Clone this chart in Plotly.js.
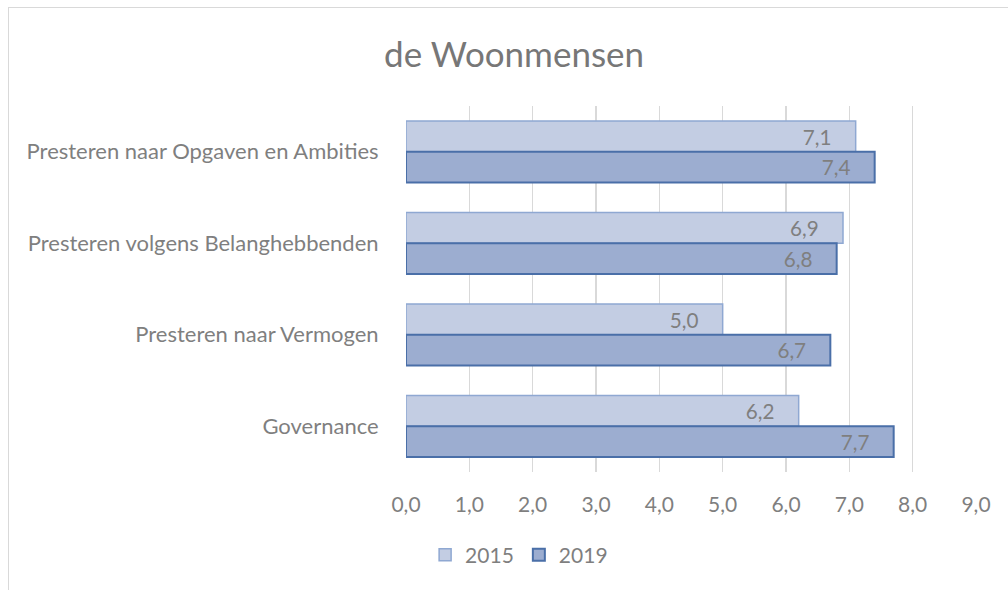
<!DOCTYPE html>
<html>
<head>
<meta charset="utf-8">
<script src="https://cdn.plot.ly/plotly-3.0.1.min.js"></script>
<style>
  html, body { margin: 0; padding: 0; background: #fff; overflow: hidden; }
  #frame { position: absolute; left: 8px; top: 7px; width: 1010px; height: 600px; border: 1px solid #d9d9d9; box-sizing: border-box; }
  #chart { position: absolute; left: 0; top: 0; width: 1008px; height: 590px; }
</style>
</head>
<body>
<div id="frame"></div>
<div id="chart"></div>
<script>
const categories = [
  "Presteren naar Opgaven en Ambities",
  "Presteren volgens Belanghebbenden",
  "Presteren naar Vermogen",
  "Governance"
];
const values2015 = [7.1, 6.9, 5.0, 6.2];
const values2019 = [7.4, 6.8, 6.7, 7.7];
const seriesNames = ["2015", "2019"];
const xTicks = [0, 1, 2, 3, 4, 5, 6, 7, 8, 9];

const font = "Lato, 'Open Sans', sans-serif";
const gray = "#7f7f7f";
const pad = "\u00a0\u00a0\u00a0\u00a0";

const traces = [
  {
    type: "bar", orientation: "h", name: seriesNames[0],
    y: categories, x: values2015,
    marker: { color: "#c3cde3", line: { color: "#8fa8d2", width: 1.5 } },
    texttemplate: "%{x:.1f}" + pad,
    textposition: "inside", insidetextanchor: "end",
    insidetextfont: { family: font, size: 21, color: gray },
    cliponaxis: false
  },
  {
    type: "bar", orientation: "h", name: seriesNames[1],
    y: categories, x: values2019,
    marker: { color: "#9cadd0", line: { color: "#4a6fa8", width: 2 } },
    texttemplate: "%{x:.1f}" + pad,
    textposition: "inside", insidetextanchor: "end",
    insidetextfont: { family: font, size: 21, color: gray },
    cliponaxis: false
  }
];

const layout = {
  width: 1008, height: 590,
  paper_bgcolor: "rgba(0,0,0,0)", plot_bgcolor: "rgba(0,0,0,0)",
  separators: ",.",
  font: { family: font, color: gray },
  margin: { l: 406, r: 32, t: 106, b: 118 },
  title: {
    text: "de Woonmensen",
    font: { family: font, size: 35, color: "#777777" },
    x: 0.51, xref: "container", xanchor: "center",
    y: 1 - 55 / 590, yref: "container", yanchor: "middle"
  },
  barmode: "group",
  bargap: 0.33, bargroupgap: 0,
  xaxis: {
    range: [0, 9], tickvals: xTicks, tickformat: ".1f",
    showgrid: true, gridcolor: "#d9d9d9", gridwidth: 1.3,
    zeroline: false, showline: false,
    ticks: "outside", ticklen: 14, tickcolor: "rgba(0,0,0,0)",
    tickfont: { family: font, size: 21, color: gray },
    fixedrange: true
  },
  yaxis: {
    autorange: "reversed", type: "category",
    showgrid: false, zeroline: false, showline: false,
    ticks: "outside", ticklen: 22, tickcolor: "rgba(0,0,0,0)",
    tickfont: { family: font, size: 22, color: gray },
    fixedrange: true
  },
  showlegend: true,
  legend: {
    orientation: "h", traceorder: "normal",
    x: 0.515, xref: "container", xanchor: "center",
    y: 1 - 555 / 590, yref: "container", yanchor: "middle",
    font: { family: font, size: 21, color: gray },
    itemwidth: 30
  }
};

Plotly.newPlot("chart", traces, layout, { displayModeBar: false, staticPlot: true });
</script>
</body>
</html>
